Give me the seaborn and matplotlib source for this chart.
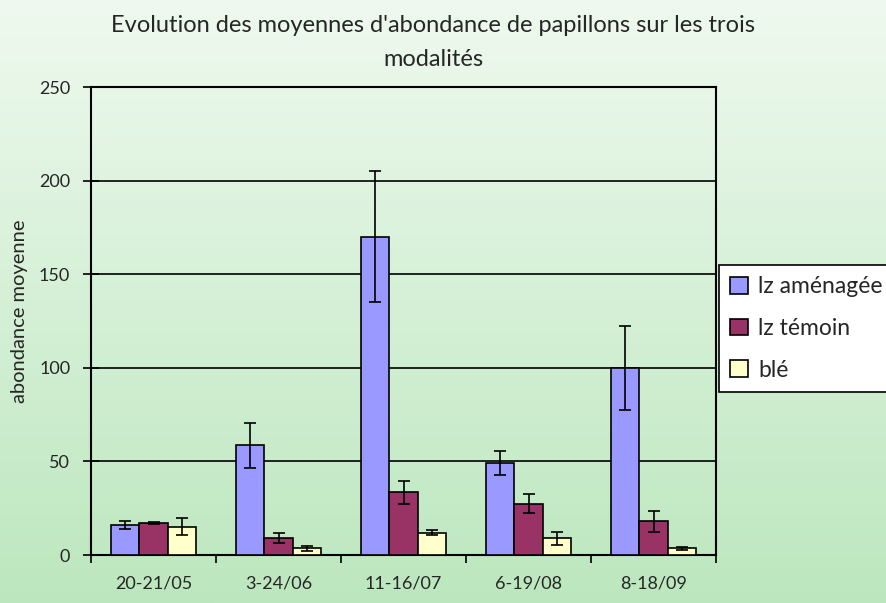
import numpy as np
import pandas as pd
import matplotlib
matplotlib.use("Agg")
import matplotlib.pyplot as plt
from matplotlib.colors import LinearSegmentedColormap
import seaborn as sns

dates = ["20-21/05", "3-24/06", "11-16/07", "6-19/08", "8-18/09"]
modalites = ["lz aménagée", "lz témoin", "blé"]
amenagee = [16, 58.5, 170, 49, 100]
temoin = [17, 9, 33.5, 27.5, 18]
ble = [15, 3.5, 12, 9, 3.5]
err_amenagee = [2.2, 12, 35, 6.3, 22.5]
err_temoin = [0.5, 2.5, 6, 5, 5.5]
err_ble = [4.5, 1.5, 1.5, 3.5, 0.8]
colors = ["#9999FF", "#993366", "#FFFFCC"]

rows = []
for mod, vals in zip(modalites, [amenagee, temoin, ble]):
    for d, v in zip(dates, vals):
        rows.append({"date": d, "modalite": mod, "moyenne": v})
df = pd.DataFrame(rows)

sns.set_style("white")
plt.rcParams["font.family"] = ["Lato", "DejaVu Sans"]

fig = plt.figure(figsize=(8.86, 6.03), dpi=100)

# gradient background
bg = fig.add_axes([0, 0, 1, 1], zorder=-10)
grad = np.linspace(0, 1, 256).reshape(-1, 1)
cmap = LinearSegmentedColormap.from_list("bg", ["#EFF9EF", "#BCE7BE"])
bg.imshow(grad, aspect="auto", cmap=cmap, extent=[0, 1, 0, 1])
bg.axis("off")

ax = fig.add_axes([91 / 886, 1 - 555 / 603, 625 / 886, 468 / 603])
ax.patch.set_alpha(0)

sns.barplot(data=df, x="date", y="moyenne", hue="modalite", palette=colors,
            width=0.68, edgecolor="black", linewidth=1.2, saturation=1,
            errorbar=None, ax=ax, zorder=3)

for cont, vals, errs in zip(ax.containers, [amenagee, temoin, ble],
                            [err_amenagee, err_temoin, err_ble]):
    xs = [p.get_x() + p.get_width() / 2 for p in cont]
    ax.errorbar(xs, vals, yerr=errs, fmt="none", ecolor="black",
                elinewidth=1.2, capsize=4, capthick=1.2, zorder=4)

ax.set_ylim(0, 250)
ax.set_xlim(-0.5, 4.5)
ax.set_yticks([0, 50, 100, 150, 200, 250])
ax.set_xticks(np.arange(-0.5, 5, 1), minor=True)
ax.tick_params(axis="x", which="major", length=0, labelsize=13, pad=15)
ax.tick_params(axis="x", which="minor", length=6, width=1.2, direction="out",
               bottom=True, color="black")
ax.tick_params(axis="y", length=12, width=1.2, direction="inout", left=True,
               labelsize=13, pad=9, color="black")
ax.yaxis.grid(True, color="black", linewidth=1.2)
ax.set_axisbelow(True)
for s in ax.spines.values():
    s.set_color("black")
    s.set_linewidth(1.5)
ax.set_xlabel("")
ax.set_ylabel("abondance moyenne", fontsize=14.5)
ax.yaxis.set_label_coords(-0.1, 0.52)

fig.text(0.489, 0.975, "Evolution des moyennes d'abondance de papillons sur les trois\nmodalités",
         ha="center", va="top", fontsize=17, linespacing=1.75)

ax.get_legend().remove()
leg = fig.legend(*ax.get_legend_handles_labels(), loc="upper left",
                 bbox_to_anchor=(719 / 886, 1 - 265 / 603), borderaxespad=0,
                 fontsize=16.5, frameon=True, fancybox=False, labelspacing=0.9,
                 handlelength=0.75, handleheight=0.75, handletextpad=0.45,
                 borderpad=0.5)
leg.get_frame().set_edgecolor("black")
leg.get_frame().set_linewidth(1.2)
leg.get_frame().set_alpha(1)

fig.savefig("out.png", dpi=100)
